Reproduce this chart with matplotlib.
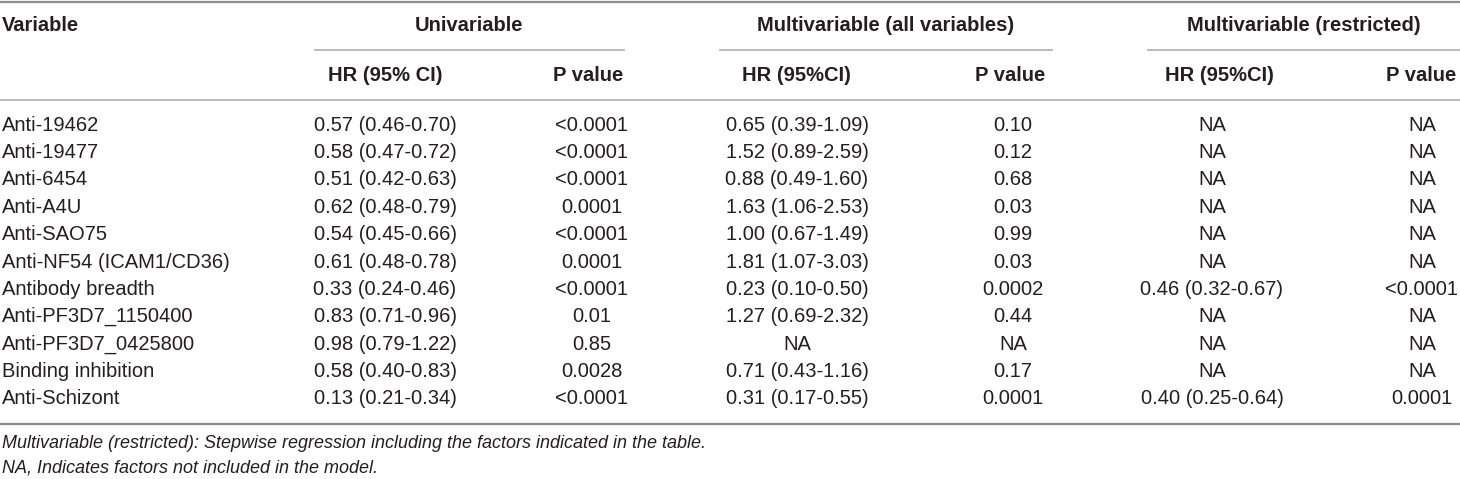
import matplotlib
matplotlib.use("Agg")
import matplotlib.pyplot as plt

variables = ["Anti-19462", "Anti-19477", "Anti-6454", "Anti-A4U", "Anti-SAO75",
             "Anti-NF54 (ICAM1/CD36)", "Antibody breadth", "Anti-PF3D7_1150400",
             "Anti-PF3D7_0425800", "Binding inhibition", "Anti-Schizont"]
uni_hr = ["0.57 (0.46-0.70)", "0.58 (0.47-0.72)", "0.51 (0.42-0.63)", "0.62 (0.48-0.79)",
          "0.54 (0.45-0.66)", "0.61 (0.48-0.78)", "0.33 (0.24-0.46)", "0.83 (0.71-0.96)",
          "0.98 (0.79-1.22)", "0.58 (0.40-0.83)", "0.13 (0.21-0.34)"]
uni_p = ["<0.0001", "<0.0001", "<0.0001", "0.0001", "<0.0001", "0.0001",
         "<0.0001", "0.01", "0.85", "0.0028", "<0.0001"]
all_hr = ["0.65 (0.39-1.09)", "1.52 (0.89-2.59)", "0.88 (0.49-1.60)", "1.63 (1.06-2.53)",
          "1.00 (0.67-1.49)", "1.81 (1.07-3.03)", "0.23 (0.10-0.50)", "1.27 (0.69-2.32)",
          "NA", "0.71 (0.43-1.16)", "0.31 (0.17-0.55)"]
all_p = ["0.10", "0.12", "0.68", "0.03", "0.99", "0.03", "0.0002", "0.44", "NA", "0.17", "0.0001"]
res_hr = ["NA"] * 6 + ["0.46 (0.32-0.67)"] + ["NA"] * 3 + ["0.40 (0.25-0.64)"]
res_p = ["NA"] * 6 + ["<0.0001"] + ["NA"] * 3 + ["0.0001"]

groups = ["Univariable", "Multivariable (all variables)", "Multivariable (restricted)"]
sub_headers = ["HR (95% CI)", "P value", "HR (95%CI)", "P value", "HR (95%CI)", "P value"]
footnotes = ["Multivariable (restricted): Stepwise regression including the factors indicated in the table.",
             "NA, Indicates factors not included in the model."]

TXT = "#231F20"
W, H = 1460, 479
FS = 14.5
plt.rcParams["font.family"] = ["Liberation Sans", "DejaVu Sans"]

fig = plt.figure(figsize=(W / 100, H / 100), dpi=100)
ax = fig.add_axes([0, 0, 1, 1])
ax.set_xlim(0, W)
ax.set_ylim(H, 0)
ax.axis("off")

# horizontal rules
ax.plot([0, W], [1.5, 1.5], color="#8c8c8c", lw=1.6)
ax.plot([0, W], [100, 100], color="#b4b4b4", lw=1.3)
ax.plot([0, W], [423.5, 423.5], color="#8c8c8c", lw=1.6)
group_spans = [(315, 624), (720, 1052), (1148, 1460)]
for x0, x1 in group_spans:
    ax.plot([x0, x1], [50, 50], color="#b4b4b4", lw=1.3)

# header rows
ax.text(2, 25, "Variable", ha="left", va="center", fontsize=FS, fontweight="bold", color=TXT)
for g, (x0, x1) in zip(groups, group_spans):
    ax.text((x0 + x1) / 2, 25, g, ha="center", va="center", fontsize=FS,
            fontweight="bold", color=TXT)
head_x = [385, 588, 796, 1010, 1219, 1421]
for s, x in zip(sub_headers, head_x):
    ax.text(x, 75, s, ha="center", va="center", fontsize=FS, fontweight="bold", color=TXT)

# body
col_x = [385, 592, 797, 1013, 1212, 1422]
columns = [uni_hr, uni_p, all_hr, all_p, res_hr, res_p]
for i, name in enumerate(variables):
    y = 125 + i * 27.4
    ax.text(2, y, name, ha="left", va="center", fontsize=FS, color=TXT)
    for col, x in zip(columns, col_x):
        ax.text(x, y, col[i], ha="center", va="center", fontsize=FS, color=TXT)

for k, note in enumerate(footnotes):
    ax.text(2, 444 + k * 24, note, ha="left", va="center", fontsize=13,
            style="italic", color=TXT)

fig.savefig("out.png", dpi=100)
